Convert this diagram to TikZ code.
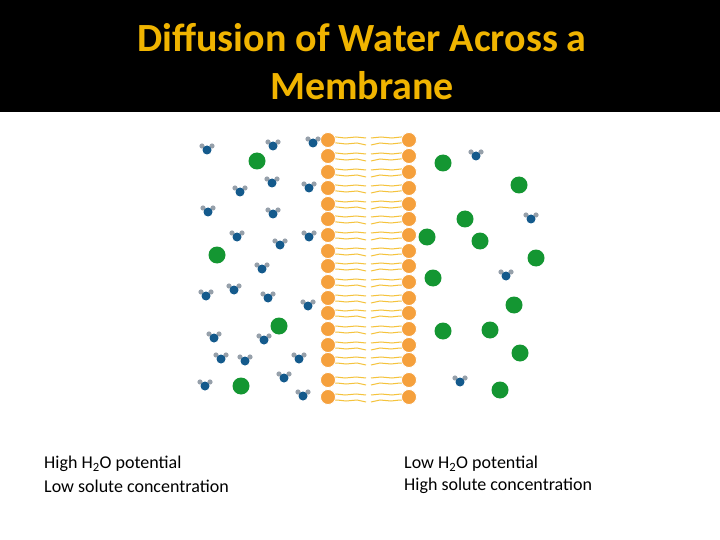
\documentclass[tikz,border=0pt]{standalone}
\usepackage{fontspec}
\setmainfont{Carlito}
\definecolor{gold}{RGB}{240,180,0}
\definecolor{head}{RGB}{245,160,60}
\definecolor{tail}{RGB}{245,195,60}
\definecolor{wblue}{RGB}{20,90,140}
\definecolor{wgray}{RGB}{150,160,170}
\definecolor{sgreen}{RGB}{20,150,50}
\begin{document}
\begin{tikzpicture}[x=1pt,y=-1pt,
  lbl/.style={anchor=west,inner sep=0pt,font=\fontsize{18}{20}\selectfont},
  phead/.style={circle,fill=head,draw=white,line width=0.8pt,inner sep=0pt,minimum size=15pt},
  tl/.style={tail,line width=1pt},
  solute/.style={circle,fill=sgreen,inner sep=0pt,minimum size=17pt}]
\useasboundingbox (0,0) rectangle (720,540);
\fill[white] (0,0) rectangle (720,540);
\fill[black] (0,0) rectangle (720,112);
\node[text=gold,font=\bfseries\fontsize{40}{48}\selectfont,align=center] (title) at (362,62) {Diffusion of Water Across a\\Membrane};
% membrane
\foreach \y in {140,156,172,188,204,219,235,251,266,282,298,313,329,345,360,380,397}{
  \draw[tl] (328,\y-3) -- (336,\y-3) -- (345,\y-2) -- (356,\y-3) -- (366,\y-2);
  \draw[tl] (328,\y+3) -- (337,\y+3) -- (346,\y+4) -- (357,\y+3) -- (366,\y+5);
  \draw[tl] (409,\y-3) -- (401,\y-3) -- (392,\y-2) -- (381,\y-3) -- (371,\y-2);
  \draw[tl] (409,\y+3) -- (400,\y+3) -- (391,\y+4) -- (380,\y+3) -- (371,\y+5);
  \node[phead] at (328,\y) {};
  \node[phead] at (409,\y) {};
}
% water
\foreach \x/\y in {207/150,273/146,313/143,240/192,272/183,309/188,208/212,273/214,237/237,280/245,309/237,262/269,206/296,234/290,268/298,308/306,214/338,264/340,221/359,245/361,299/359,205/386,284/378,303/396,476/156,531/219,506/276,460/382}{
  \fill[wgray] (\x-5,\y-4) circle (2.6);
  \fill[wgray] (\x+5,\y-4) circle (2.6);
  \fill[wblue] (\x,\y) circle (4.5);
}
% solutes
\foreach \x/\y [count=\i] in {257/161,217/255,279/326,241/386,443/163,519/185,465/219,427/237,480/241,536/258,433/278,514/305,443/331,490/330,520/353,500/390}{
  \node[solute] (s\i) at (\x,\y) {};
}
\node[lbl] (l1) at (44,464) {High H\textsubscript{2}O potential};
\node[lbl] (l2) at (44,486) {Low solute concentration};
\node[lbl] (r1) at (404,464) {Low H\textsubscript{2}O potential};
\node[lbl] (r2) at (404,486) {High solute concentration};
\end{tikzpicture}
\end{document}
